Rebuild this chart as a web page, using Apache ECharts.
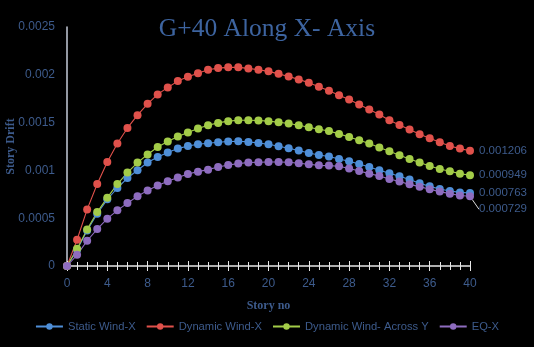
<!DOCTYPE html>
<html><head><meta charset="utf-8">
<script src="https://cdn.jsdelivr.net/npm/echarts@6/dist/echarts.min.js"></script>
<style>html,body{margin:0;padding:0;background:#000;}#c{width:534px;height:347px;}</style>
</head><body><div id="c"></div>
<script>
var stories = [];
for (var i = 0; i <= 40; i++) stories.push(i);
var staticWindX = [0,0.00017,0.000372,0.000547,0.000697,0.000816,0.00092,0.001001,0.001082,0.00114,0.001187,0.001228,0.001256,0.001274,0.001284,0.001295,0.001302,0.001305,0.001298,0.001287,0.001274,0.001253,0.001232,0.001208,0.001182,0.001161,0.001145,0.00112,0.001095,0.001067,0.001036,0.001001,0.00097,0.000938,0.000904,0.000865,0.000833,0.000805,0.000784,0.00077,0.000763];
var dynamicWindX = [0,0.000275,0.000592,0.000857,0.001088,0.001281,0.001444,0.001578,0.001696,0.001795,0.001868,0.001934,0.001979,0.002016,0.002052,0.00207,0.002078,0.002078,0.002067,0.002052,0.002036,0.00201,0.001983,0.001952,0.001916,0.001874,0.001832,0.001787,0.001742,0.00169,0.001637,0.001585,0.001525,0.001476,0.001428,0.001378,0.001336,0.001294,0.001256,0.001228,0.001206];
var dynamicWindAcrossY = [0,0.00018,0.000383,0.000564,0.000715,0.000857,0.000977,0.001082,0.001166,0.001245,0.001302,0.001354,0.001396,0.001438,0.001473,0.001497,0.001515,0.001525,0.001525,0.001522,0.001515,0.001504,0.00149,0.001473,0.001452,0.001431,0.001412,0.001382,0.00135,0.001316,0.001281,0.001239,0.0012,0.001158,0.00112,0.001082,0.001046,0.001015,0.000991,0.000966,0.000949];
var eqX = [0,0.000117,0.000264,0.000386,0.000495,0.000582,0.000658,0.000729,0.000791,0.000841,0.000886,0.000925,0.000962,0.000987,0.001008,0.001036,0.001057,0.001071,0.001082,0.001085,0.001088,0.001088,0.001085,0.001074,0.001064,0.001053,0.00105,0.001043,0.001019,0.000994,0.000966,0.000941,0.00091,0.000883,0.000854,0.00083,0.000802,0.000778,0.000757,0.000738,0.000729];
var seriesNames = ['Static Wind-X','Dynamic Wind-X','Dynamic Wind- Across Y','EQ-X'];
var colors = ['#4f8fd8','#e0514b','#a3cc48','#8e6cbf'];
var yTicks = [0,0.0005,0.001,0.0015,0.002,0.0025];

var txtColor = '#3d5b8c';
function mk(name, vals, color, extra) {
  var data = vals.map(function(v, i){ return [stories[i], v]; });
  var last = data.length - 1;
  var d = data.map(function(p, i){
    if (i === last) {
      return {value: p, label: {show: true, position: 'right', distance: 5, formatter: function(){ return String(vals[last]); }, color: txtColor, fontSize: 11.5, fontFamily: 'Liberation Sans'}};
    }
    return p;
  });
  var s = {
    name: name, type: 'line', data: d, symbol: 'circle', symbolSize: 8,
    lineStyle: {color: color, width: 1.1}, itemStyle: {color: color},
    label: {show: false}, animation: false, z: 3
  };
  if (extra) for (var k in extra) s[k] = extra[k];
  return s;
}
var chart = echarts.init(document.getElementById('c'));
chart.setOption({
  backgroundColor: '#000',
  animation: false,
  color: colors,
  title: {text: 'G+40 Along X- Axis', left: 'center', top: 11,
    textStyle: {fontFamily: 'Liberation Serif', fontWeight: 'normal', fontSize: 25.5, color: '#3d64a0'}},
  legend: {
    data: seriesNames, left: 'center', top: 316, itemWidth: 27, itemHeight: 8, itemGap: 10,
    textStyle: {color: txtColor, fontSize: 11.2, fontFamily: 'Liberation Sans'}
  },
  grid: {left: 67, right: 64, top: 27, bottom: 81, containLabel: false, outerBoundsMode: 'none'},
  xAxis: [{
    type: 'value', min: 0, max: 40, interval: 4,
    name: 'Story no', nameLocation: 'middle', nameGap: 34, nameMoveOverlap: false,
    nameTextStyle: {fontFamily: 'Liberation Serif', fontWeight: 'bold', fontSize: 12, color: txtColor},
    axisLine: {show: true, lineStyle: {color: '#e8e8e8', width: 1.5}},
    axisTick: {show: true, length: 5, lineStyle: {color: '#e8e8e8'}},
    minorTick: {show: true, splitNumber: 4, length: 4, lineStyle: {color: '#e8e8e8'}},
    axisLabel: {color: txtColor, fontSize: 12, fontFamily: 'Liberation Sans', margin: 12},
    splitLine: {show: false}
  }, {
    type: 'value', min: 0, max: 40, interval: 4, position: 'bottom', gridIndex: 0,
    axisLine: {show: false},
    axisTick: {show: true, inside: true, length: 5, lineStyle: {color: '#e8e8e8'}},
    minorTick: {show: true, splitNumber: 4, length: 4, lineStyle: {color: '#e8e8e8'}},
    axisLabel: {show: false}, splitLine: {show: false}
  }],
  yAxis: {
    type: 'value', min: 0, max: 0.0025, interval: 0.0005,
    name: 'Story Drift', nameLocation: 'middle', nameGap: 50, nameMoveOverlap: false,
    nameTextStyle: {fontFamily: 'Liberation Serif', fontWeight: 'bold', fontSize: 12, color: txtColor},
    axisLine: {show: true, lineStyle: {color: '#c5cbd8', width: 1.5}},
    axisTick: {show: false},
    axisLabel: {color: txtColor, fontSize: 12, fontFamily: 'Liberation Sans', margin: 12,
      formatter: function(v){ for (var i=0;i<yTicks.length;i++){ if (Math.abs(v-yTicks[i])<1e-9) return String(yTicks[i]); } return ''; }},
    splitLine: {show: false}
  },
  series: [
    mk(seriesNames[0], staticWindX, colors[0]),
    mk(seriesNames[1], dynamicWindX, colors[1]),
    mk(seriesNames[2], dynamicWindAcrossY, colors[2]),
    mk(seriesNames[3], eqX, colors[3], {
      labelLayout: function(p){ return p.dataIndex === 40 ? {dy: 13} : {}; },
      labelLine: {show: true, length2: 0, lineStyle: {color: '#dddddd', width: 1}}
    })
  ]
});
</script></body></html>
